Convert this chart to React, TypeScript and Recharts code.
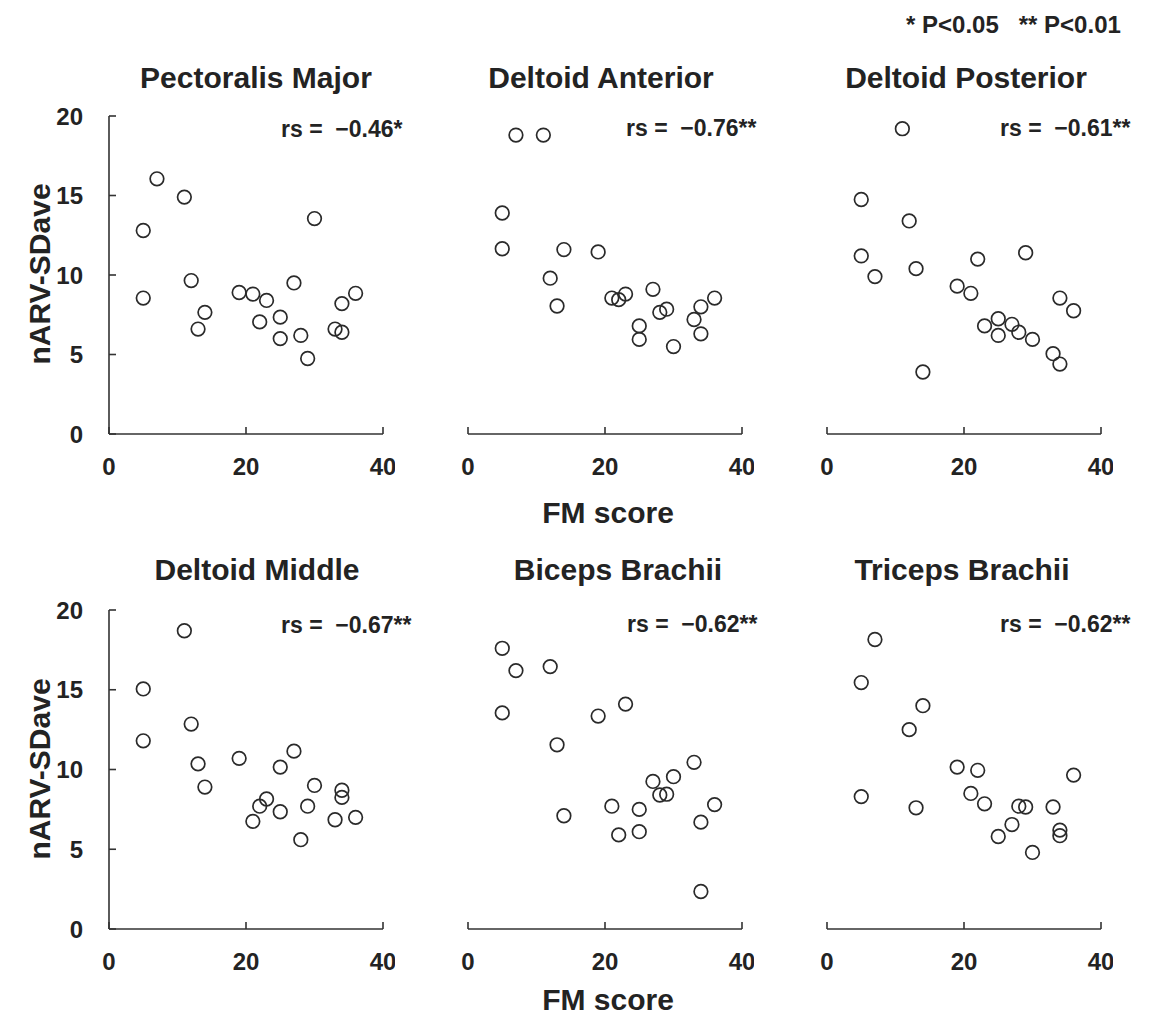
import { ScatterChart, Scatter, XAxis, YAxis } from "recharts";

// FM score (x) and nARV-SDave (y) for each muscle
const pectoralisFM = [5, 5, 7, 11, 12, 13, 14, 19, 21, 22, 23, 25, 25, 27, 28, 29, 30, 33, 34, 34, 36];
const pectoralisSD = [12.8, 8.55, 16.05, 14.9, 9.65, 6.6, 7.65, 8.9, 8.8, 7.05, 8.4, 7.35, 6.0, 9.5, 6.2, 4.75, 13.55, 6.6, 6.4, 8.2, 8.85];

const deltAntFM = [5, 5, 7, 11, 12, 13, 14, 19, 21, 22, 23, 25, 25, 27, 28, 29, 30, 33, 34, 34, 36];
const deltAntSD = [13.9, 11.65, 18.8, 18.8, 9.8, 8.05, 11.6, 11.45, 8.55, 8.45, 8.8, 6.8, 5.95, 9.1, 7.65, 7.85, 5.5, 7.2, 8.0, 6.3, 8.55];

const deltPostFM = [5, 5, 7, 11, 12, 13, 14, 19, 21, 22, 23, 25, 25, 27, 28, 29, 30, 33, 34, 34, 36];
const deltPostSD = [14.75, 11.2, 9.9, 19.2, 13.4, 10.4, 3.9, 9.3, 8.85, 11.0, 6.8, 7.25, 6.2, 6.9, 6.4, 11.4, 5.95, 5.05, 4.4, 8.55, 7.75];

const deltMidFM = [5, 5, 11, 12, 13, 14, 19, 21, 22, 23, 25, 25, 27, 28, 29, 30, 33, 34, 34, 36];
const deltMidSD = [15.05, 11.8, 18.7, 12.85, 10.35, 8.9, 10.7, 6.75, 7.7, 8.15, 10.15, 7.35, 11.15, 5.6, 7.7, 9.0, 6.85, 8.7, 8.25, 7.0];

const bicepsFM = [5, 5, 7, 12, 13, 14, 19, 21, 22, 23, 25, 25, 27, 28, 29, 30, 33, 34, 34, 36];
const bicepsSD = [17.6, 13.55, 16.2, 16.45, 11.55, 7.1, 13.35, 7.7, 5.9, 14.1, 7.5, 6.1, 9.25, 8.4, 8.45, 9.55, 10.45, 6.7, 2.35, 7.8];

const tricepsFM = [5, 5, 7, 12, 13, 14, 19, 21, 22, 23, 25, 27, 28, 29, 30, 33, 34, 34, 36];
const tricepsSD = [15.45, 8.3, 18.15, 12.5, 7.6, 14.0, 10.15, 8.5, 9.95, 7.85, 5.8, 6.55, 7.7, 7.65, 4.8, 7.65, 6.2, 5.85, 9.65];

const titles = ["Pectoralis Major", "Deltoid Anterior", "Deltoid Posterior", "Deltoid Middle", "Biceps Brachii", "Triceps Brachii"];
const rsLabels = ["rs =  \u22120.46*", "rs =  \u22120.76**", "rs =  \u22120.61**", "rs =  \u22120.67**", "rs =  \u22120.62**", "rs =  \u22120.62**"];

const xTicks = [0, 20, 40];
const yTicks = [0, 5, 10, 15, 20];

const FONT = '"Liberation Sans", Arial, Helvetica, sans-serif';
const INK = "#232323";

const toPoints = (xs: number[], ys: number[]) => xs.map((x, i) => ({ x, y: ys[i] }));

const panels = [
  { data: toPoints(pectoralisFM, pectoralisSD), left: 109, top: 116, h: 318, showY: true, tx: 256, ty: 88, rx: 281, ry: 137 },
  { data: toPoints(deltAntFM, deltAntSD), left: 468, top: 116, h: 318, showY: false, tx: 601, ty: 88, rx: 626, ry: 136 },
  { data: toPoints(deltPostFM, deltPostSD), left: 827, top: 116, h: 318, showY: false, tx: 966, ty: 88, rx: 1000, ry: 136 },
  { data: toPoints(deltMidFM, deltMidSD), left: 109, top: 610, h: 319, showY: true, tx: 257, ty: 580, rx: 281, ry: 633 },
  { data: toPoints(bicepsFM, bicepsSD), left: 468, top: 610, h: 319, showY: false, tx: 618, ty: 580, rx: 627, ry: 632 },
  { data: toPoints(tricepsFM, tricepsSD), left: 827, top: 610, h: 319, showY: false, tx: 962, ty: 580, rx: 1000, ry: 632 },
];

const PW = 274;
const Y_W = 70;
const X_H = 60;
const M_TOP = 12;
const M_RIGHT = 12;

const tickStyle = { fontSize: 24, fontWeight: 700, fill: INK, fontFamily: FONT };
const axisLine = { stroke: "#333", strokeWidth: 1.6 };

const Ring = (props: any) => (
  <circle cx={props.cx} cy={props.cy} r={6.8} fill="none" stroke="#2a2a2a" strokeWidth={1.7} />
);

function Panel({ p }: { p: (typeof panels)[number] }) {
  const width = Y_W + PW + M_RIGHT;
  const height = M_TOP + p.h + X_H;
  return (
    <div style={{ position: "absolute", left: p.left - Y_W, top: p.top - M_TOP }}>
      <ScatterChart
        width={width}
        height={height}
        margin={{ top: M_TOP, right: M_RIGHT, bottom: 0, left: p.showY ? 0 : Y_W }}
      >
        <XAxis
          type="number"
          dataKey="x"
          domain={[0, 40]}
          ticks={xTicks}
          interval={0}
          height={X_H}
          tickSize={-7}
          tickMargin={31}
          axisLine={axisLine}
          tickLine={axisLine}
          tick={tickStyle}
        />
        <YAxis
          type="number"
          dataKey="y"
          domain={[0, 20]}
          ticks={yTicks}
          interval={0}
          width={Y_W}
          hide={!p.showY}
          tickSize={-7}
          tickMargin={33}
          axisLine={axisLine}
          tickLine={axisLine}
          tick={tickStyle}
        />
        <Scatter data={p.data} shape={Ring} isAnimationActive={false} />
      </ScatterChart>
    </div>
  );
}

export default function App() {
  return (
    <div style={{ position: "absolute", left: 0, top: 0, width: 1150, height: 1016, background: "#fff" }}>
      {panels.map((p, i) => (
        <Panel key={i} p={p} />
      ))}
      <svg
        width={1150}
        height={1016}
        style={{ position: "absolute", left: 0, top: 0, pointerEvents: "none" }}
        fontFamily={FONT}
        fontWeight={700}
        fill={INK}
      >
        <text x={906} y={33} fontSize={24} style={{ whiteSpace: "pre" }}>
          {"* P<0.05   ** P<0.01"}
        </text>
        {panels.map((p, i) => (
          <g key={i}>
            <text x={p.tx} y={p.ty} fontSize={30} textAnchor="middle">
              {titles[i]}
            </text>
            <text x={p.rx} y={p.ry} fontSize={23} style={{ whiteSpace: "pre" }}>
              {rsLabels[i]}
            </text>
          </g>
        ))}
        <text x={608} y={523} fontSize={30} textAnchor="middle">FM score</text>
        <text x={608} y={1010} fontSize={30} textAnchor="middle">FM score</text>
        <text transform="translate(50,274) rotate(-90)" fontSize={30} textAnchor="middle">nARV-SDave</text>
        <text transform="translate(50,769) rotate(-90)" fontSize={30} textAnchor="middle">nARV-SDave</text>
      </svg>
    </div>
  );
}
